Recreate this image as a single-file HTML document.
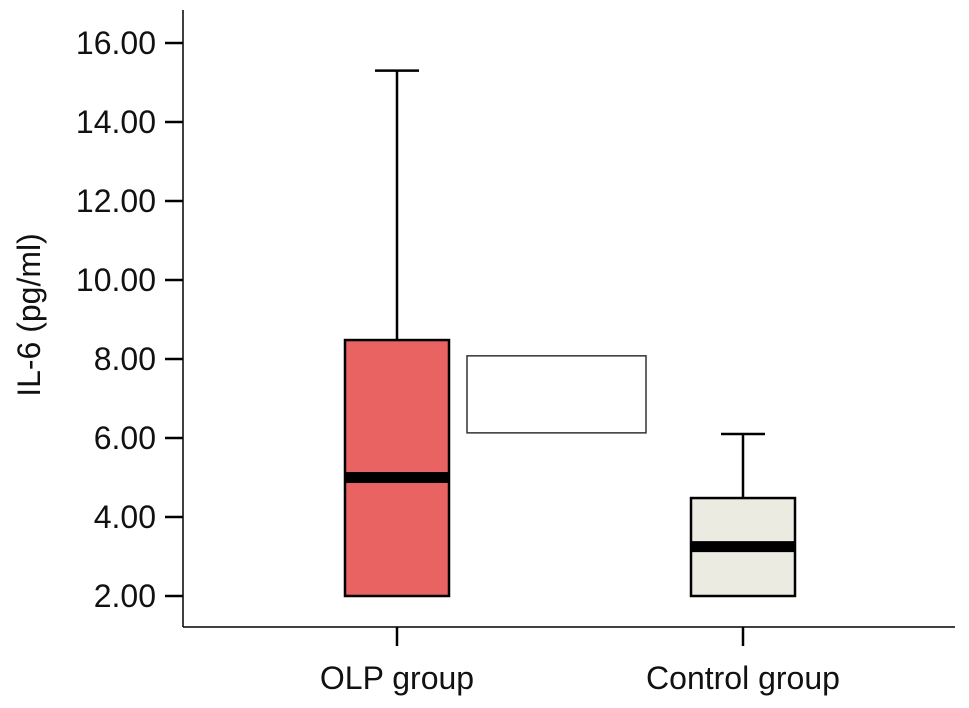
<!DOCTYPE html>
<html><head><meta charset="utf-8"><style>
body{margin:0;background:#fff}
svg{display:block;font-family:"Liberation Sans",Arial,sans-serif}
</style></head><body>
<svg id="chart" width="969" height="708" viewBox="0 0 969 708" xmlns="http://www.w3.org/2000/svg"></svg>
<script>
const categories = ["OLP group", "Control group"];
const q1Values = [2.0, 2.0];
const medianValues = [5.0, 3.25];
const q3Values = [8.48, 4.48];
const maxValues = [15.3, 6.1];
const boxColors = ["#ea6363", "#ecebe2"];
const yTicks = [2, 4, 6, 8, 10, 12, 14, 16];
const extraRectValues = [6.13, 8.08];

const NS = "http://www.w3.org/2000/svg";
const svg = document.getElementById("chart");
function y(v){ return 596 - (v - 2) * 39.5; }
const xCenters = [397, 743];
function x(i){ return xCenters[i]; }
const boxW = 104;
function el(tag, attrs, parent){
  const e = document.createElementNS(NS, tag);
  for (const k in attrs) e.setAttribute(k, attrs[k]);
  (parent || svg).appendChild(e);
  return e;
}

let a = el("line",{x1:183,y1:10,x2:183,y2:627,stroke:"#000","stroke-width":1.5});


a = el("line",{x1:183,y1:627,x2:955,y2:627,stroke:"#000","stroke-width":1.5});



yTicks.forEach(t=>{
  const l = el("line",{x1:165,y1:y(t),x2:183,y2:y(t),stroke:"#000","stroke-width":2.5});
  
  
  const tx = el("text",{x:156,y:y(t)+11,"text-anchor":"end","font-size":32,fill:"#111"});
  tx.textContent = t.toFixed(2);
  
  
});

const yt = el("text",{x:0,y:0,transform:"translate(40,315) rotate(-90)","text-anchor":"middle","font-size":32,fill:"#111"});
yt.textContent = "IL-6 (pg/ml)";



const er = el("rect",{x:467,y:y(extraRectValues[1]),width:179,height:y(extraRectValues[0])-y(extraRectValues[1]),fill:"#fff",stroke:"#333","stroke-width":1.5});



categories.forEach((c,i)=>{
  const cx = x(i);
  const g = el("g",{});
  
  
  el("line",{x1:cx,y1:y(maxValues[i]),x2:cx,y2:y(q3Values[i]),stroke:"#000","stroke-width":2.5},g);
  el("line",{x1:cx-22,y1:y(maxValues[i]),x2:cx+22,y2:y(maxValues[i]),stroke:"#000","stroke-width":2.5},g);
  el("rect",{x:cx-boxW/2,y:y(q3Values[i]),width:boxW,height:y(q1Values[i])-y(q3Values[i]),fill:boxColors[i],stroke:"#000","stroke-width":2.5},g);
  el("line",{x1:cx-boxW/2,y1:y(medianValues[i]),x2:cx+boxW/2,y2:y(medianValues[i]),stroke:"#000","stroke-width":11},g);
  const tk = el("line",{x1:cx,y1:627,x2:cx,y2:646,stroke:"#000","stroke-width":2.5});
  
  
  const lb = el("text",{x:cx,y:689,"text-anchor":"middle","font-size":32,fill:"#111"});
  lb.textContent = c;
  
  
});
</script>
</body></html>
